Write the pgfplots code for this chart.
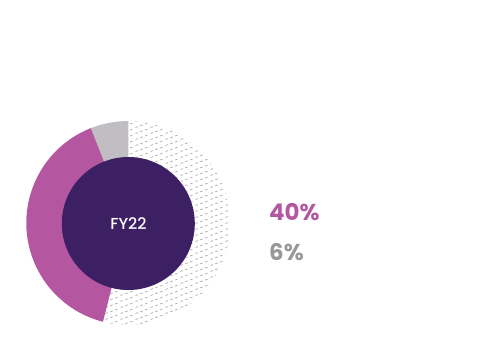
\documentclass[border=0pt]{standalone}
\usepackage{pgfplots}
\pgfplotsset{compat=1.18}
\usepackage{fontspec}
\setmainfont{Poppins}
\newfontfamily\popsemi{Poppins Medium}
\usetikzlibrary{patterns}
\definecolor{cmag}{RGB}{181,86,160}
\definecolor{cgray}{RGB}{192,190,194}
\definecolor{cdark}{RGB}{60,32,99}
\definecolor{ctext}{RGB}{152,152,152}
\definecolor{chatch}{RGB}{160,160,160}
\pgfdeclarepatternformonly{dashhatch}{\pgfpointorigin}{\pgfqpoint{15bp}{6bp}}{\pgfqpoint{15bp}{6bp}}{%
  \pgfsetlinewidth{0.7bp}%
  \pgfpathmoveto{\pgfqpoint{0.6bp}{0.6bp}}\pgfpathlineto{\pgfqpoint{3.2bp}{1.64bp}}%
  \pgfpathmoveto{\pgfqpoint{5.6bp}{2.6bp}}\pgfpathlineto{\pgfqpoint{8.2bp}{3.64bp}}%
  \pgfpathmoveto{\pgfqpoint{10.6bp}{4.6bp}}\pgfpathlineto{\pgfqpoint{13.2bp}{5.64bp}}%
  \pgfusepath{stroke}%
}
% slice values (percent), counter-clockwise from the top
\def\vgray{6}
\def\vmag{40}
\def\vrest{54}
\begin{document}
\begin{tikzpicture}
\pgfmathsetmacro{\aA}{90}
\pgfmathsetmacro{\aB}{\aA+\vgray*3.6}
\pgfmathsetmacro{\aC}{\aB+\vmag*3.6}
\pgfmathsetmacro{\aD}{\aC+\vrest*3.6}
\begin{axis}[
  hide axis,
  scale only axis,
  width=500bp, height=361bp,
  xmin=0, xmax=500, ymin=0, ymax=361,
  clip=false,
]
\path (axis cs:0,0) rectangle (axis cs:500,361);
% hatched remainder
\path[pattern=dashhatch, pattern color=chatch] (axis cs:128.3,138) -- ++(\aC:102bp) arc[start angle=\aC, end angle=\aD, radius=102bp] -- cycle;
% gray slice
\fill[cgray] (axis cs:128.3,138) -- ++(\aA:102bp) arc[start angle=\aA, end angle=\aB, radius=102bp] -- cycle;
% magenta slice
\fill[cmag] (axis cs:128.3,138) -- ++(\aB:102bp) arc[start angle=\aB, end angle=\aC, radius=102bp] -- cycle;
% centre
\fill[cdark] (axis cs:128.3,137.5) circle[radius=66.5bp];
\node[text=white, font=\fontsize{16}{17}\popsemi] at (axis cs:128.5,137) {FY22};
\node[anchor=west, inner sep=0pt, text=cmag, font=\fontsize{23}{24}\selectfont\bfseries] at (axis cs:269,148.5) {\vmag\%};
\node[anchor=west, inner sep=0pt, text=ctext, font=\fontsize{23}{24}\selectfont\bfseries] at (axis cs:269,108.5) {\vgray\%};
\end{axis}
\end{tikzpicture}
\end{document}
